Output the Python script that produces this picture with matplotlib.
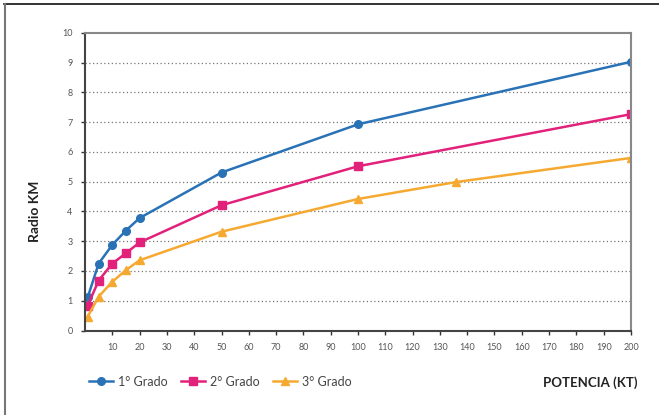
import matplotlib
matplotlib.use("Agg")
import matplotlib.pyplot as plt
from matplotlib.lines import Line2D

plt.rcParams['font.family'] = ['Lato', 'DejaVu Sans']

x_vals = [1, 5, 10, 15, 20, 50, 100, 200]
grado1 = [1.12, 2.25, 2.88, 3.36, 3.78, 5.31, 6.93, 9.03]
grado2 = [0.84, 1.68, 2.25, 2.6, 2.96, 4.21, 5.52, 7.27]
x3_vals = [1, 5, 10, 15, 20, 50, 100, 136, 200]
grado3 = [0.47, 1.14, 1.64, 2.03, 2.36, 3.32, 4.42, 4.99, 5.8]
labels = ["1° Grado", "2° Grado", "3° Grado"]
x_ticks = list(range(10, 201, 10))
y_ticks = list(range(0, 11))

c_blue = "#2a72b6"
c_pink = "#e2217a"
c_orange = "#f6a930"

fig = plt.figure(figsize=(6.59, 4.15), dpi=100)
ax = fig.add_axes([0.129, 0.2036, 0.8285, 0.717])

ax.plot(x_vals, grado1, color=c_blue, lw=1.8, marker='o', ms=5.5, label=labels[0])
ax.plot(x_vals, grado2, color=c_pink, lw=1.8, marker='s', ms=5.5, label=labels[1])
ax.plot(x3_vals, grado3, color=c_orange, lw=1.8, marker='^', ms=5.5, label=labels[2])

ax.set_xlim(0, 200)
ax.set_ylim(0, 10)
ax.set_xticks(x_ticks)
ax.set_yticks(y_ticks)
ax.tick_params(axis='both', labelsize=6.5, colors='#333333', length=3, width=1, direction='out')
ax.tick_params(axis='x', pad=6)
ax.tick_params(axis='y', pad=6)
for lab in ax.get_xticklabels() + ax.get_yticklabels():
    lab.set_color('#555555')

for y in range(1, 10):
    ax.axhline(y, color='#777777', lw=0.9, ls=(0, (1, 2)), zorder=0)

for s in ['left', 'bottom']:
    ax.spines[s].set_color('#444444')
    ax.spines[s].set_linewidth(1.5)
for s in ['top', 'right']:
    ax.spines[s].set_color('#888888')
    ax.spines[s].set_linewidth(1.5)

fig.text(0.053, 0.49, "Radio KM", rotation=90, ha='center', va='center',
         fontsize=10, fontweight='bold', color='#222222')
fig.text(0.967, 0.077, "POTENCIA (KT)", ha='right', va='center',
         fontsize=9.5, fontweight='bold', color='#222222')

handles = [
    Line2D([], [], color=c_blue, lw=1.8, marker='o', ms=5.5),
    Line2D([], [], color=c_pink, lw=1.8, marker='s', ms=5.5),
    Line2D([], [], color=c_orange, lw=1.8, marker='^', ms=5.5),
]
leg = fig.legend(handles, labels, loc='center left', bbox_to_anchor=(0.118, 0.08),
                 ncol=3, frameon=False, fontsize=9, handlelength=1.9,
                 columnspacing=1.1, handletextpad=0.4)
for t in leg.get_texts():
    t.set_color('#444444')

# outer frame lines (top and left)
fig.add_artist(Line2D([0.006, 1.0], [0.99, 0.99], transform=fig.transFigure,
                      color='#111111', lw=1.2))
fig.add_artist(Line2D([0.007, 0.007], [0.0, 0.99], transform=fig.transFigure,
                      color='#777777', lw=1.5))

fig.savefig("out.png", dpi=100)
